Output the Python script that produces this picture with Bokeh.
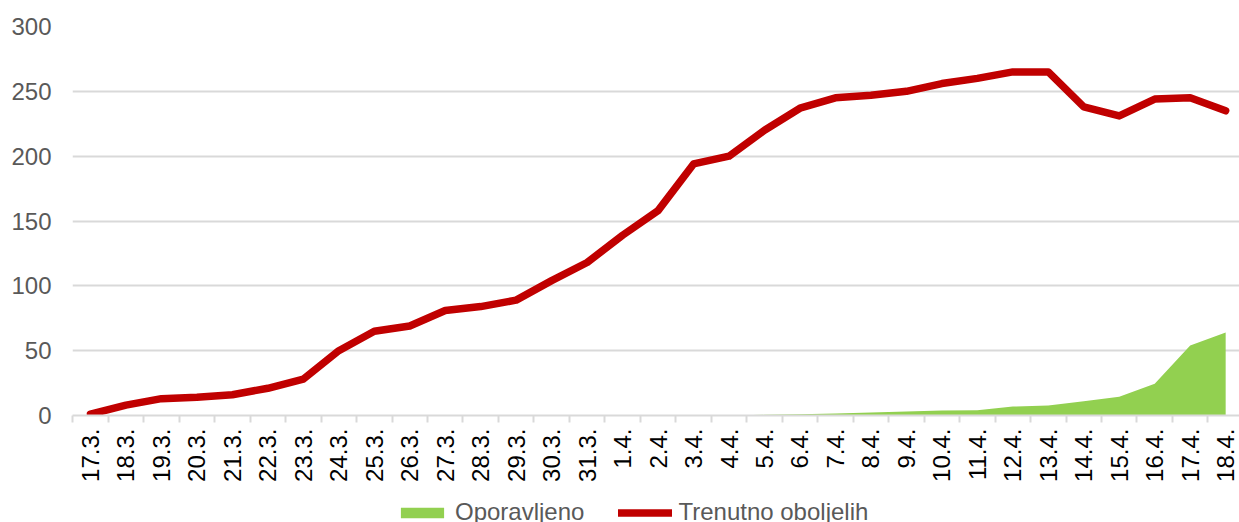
import math
from bokeh.plotting import figure
from bokeh.layouts import column
from bokeh.models import Range1d, FixedTicker, Legend, LegendItem, ColumnDataSource
from bokeh.embed import file_html
from bokeh.resources import INLINE

dates = ["17.3.", "18.3.", "19.3.", "20.3.", "21.3.", "22.3.", "23.3.", "24.3.", "25.3.",
         "26.3.", "27.3.", "28.3.", "29.3.", "30.3.", "31.3.", "1.4.", "2.4.", "3.4.",
         "4.4.", "5.4.", "6.4.", "7.4.", "8.4.", "9.4.", "10.4.", "11.4.", "12.4.",
         "13.4.", "14.4.", "15.4.", "16.4.", "17.4.", "18.4."]
trenutno = [1, 8, 13, 14, 16, 21, 28, 50, 65, 69, 81, 84, 89, 104, 118, 139, 158, 194,
            200, 220, 237, 245, 247, 250, 256, 260, 265, 265, 238, 231, 244, 245, 235]
oporavljeno = [0, 0, 0, 0, 0, 0, 0, 0, 0, 0, 0, 0, 0, 0, 0, 0, 0, 0,
               0, 0.5, 1, 1.5, 2.3, 3, 3.9, 4.1, 6.9, 7.7, 11, 14.4, 24.4, 54, 64]
y_ticks = [0, 50, 100, 150, 200, 250, 300]
series_names = ["Oporavljeno", "Trenutno oboljelih"]

GREEN = "#92D050"
RED = "#C00000"
FONT = "Liberation Sans"
FSIZE = "24px"

idx = list(range(len(dates)))
src = ColumnDataSource(dict(x=idx, t=trenutno, o=oporavljeno, z=[0] * len(idx)))

p = figure(width=1239, height=490, output_backend="svg", toolbar_location=None,
           x_range=Range1d(-0.507, 32.39), y_range=Range1d(0, 300),
           min_border_left=72, min_border_top=26, min_border_right=0, min_border_bottom=75)
p.outline_line_color = None
p.background_fill_color = "white"
p.border_fill_color = "white"

p.varea(x="x", y1="z", y2="o", source=src, fill_color=GREEN)
p.line(x="x", y="t", source=src, line_color=RED, line_width=7.5,
       line_cap="round", line_join="round")

# x axis
xa = p.xaxis[0]
xa.ticker = FixedTicker(ticks=idx, minor_ticks=[i + 0.5 for i in range(-1, len(idx))])
xa.major_label_overrides = {i: d for i, d in enumerate(dates)}
xa.major_label_orientation = math.pi / 2
xa.major_label_text_font = FONT
xa.major_label_text_font_size = FSIZE
xa.major_label_text_color = "#000000"
xa.major_tick_out = 0
xa.major_tick_in = 0
xa.minor_tick_out = 7
xa.minor_tick_in = 0
xa.minor_tick_line_color = "#D9D9D9"
xa.minor_tick_line_width = 2
xa.axis_line_color = "#D9D9D9"
xa.axis_line_width = 2
xa.major_label_standoff = 6

# y axis
ya = p.yaxis[0]
ya.ticker = FixedTicker(ticks=y_ticks)
ya.major_label_text_font = FONT
ya.major_label_text_font_size = FSIZE
ya.major_label_text_color = "#595959"
ya.axis_line_color = None
ya.major_tick_line_color = None
ya.minor_tick_line_color = None
ya.major_label_standoff = 15

p.xgrid.grid_line_color = None
p.ygrid.grid_line_color = "#D9D9D9"
p.ygrid.grid_line_width = 2
p.ygrid.ticker = FixedTicker(ticks=y_ticks)

# legend strip below
lf = figure(width=1239, height=32, output_backend="svg", toolbar_location=None,
            x_range=Range1d(0, 1), y_range=Range1d(0, 1),
            x_axis_location=None, y_axis_location=None,
            min_border_left=0, min_border_right=0, min_border_top=0, min_border_bottom=0)
lf.outline_line_color = None
lf.xgrid.grid_line_color = None
lf.ygrid.grid_line_color = None
la = lf.varea(x=[5, 6], y1=[5, 5], y2=[6, 6], fill_color=GREEN)
ll = lf.line(x=[5, 6], y=[5, 5], line_color=RED, line_width=7.5, line_cap="round")

legend = Legend(items=[LegendItem(label=series_names[0], renderers=[la]),
                       LegendItem(label=series_names[1], renderers=[ll])],
                orientation="horizontal", location=(323, -4),
                label_text_font=FONT, label_text_font_size=FSIZE,
                label_text_color="#595959", glyph_width=54, glyph_height=13,
                label_standoff=6, spacing=34, padding=4, margin=0,
                border_line_color=None, background_fill_alpha=0)
lf.add_layout(legend, "center")

layout = column(p, lf, spacing=0)
open("out.html", "w").write(file_html(layout, INLINE))
